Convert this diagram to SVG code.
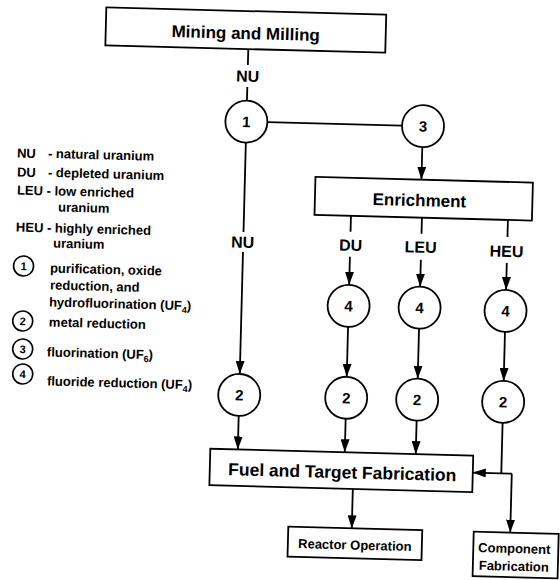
<svg xmlns="http://www.w3.org/2000/svg" width="560" height="580" viewBox="0 0 560 580">
<style>
text{font-family:"Liberation Sans",Arial,sans-serif;font-weight:bold;fill:#000}
.box{fill:#fff;stroke:#000;stroke-width:1.8}
.c{fill:#fff;stroke:#000;stroke-width:1.8}
.lc{fill:#fff;stroke:#000;stroke-width:1.6}
.ln{fill:none;stroke:#000;stroke-width:1.8}
.ar{fill:none;stroke:#000;stroke-width:1.8;marker-end:url(#ah)}
.t17{font-size:17px;text-anchor:middle}
.t16{font-size:16px;text-anchor:middle}
.t15{font-size:15px;text-anchor:middle}
.t13{font-size:13px;text-anchor:middle}
.lg{font-size:13px}
.ld{font-size:11px;text-anchor:middle}
.sub{font-size:9px}
</style>
<defs>
<marker id="ah" markerUnits="userSpaceOnUse" viewBox="0 0 13 9" markerWidth="13" markerHeight="9" refX="13" refY="4.5" orient="auto"><path d="M0,0 L13,4.5 L0,9 z" fill="#000"/></marker>
</defs>
<g transform="rotate(1.5 280 290)">
<g id="connectors">
<path class="ln" d="M242,50 V66"/>
<path class="ln" d="M242,88 V101.5"/>
<path class="ln" d="M263.3,122.5 H397.7"/>
<path class="ar" d="M418.5,143.5 V176"/>
<path class="ln" d="M242,143.5 V233"/>
<path class="ar" d="M242,253 V375"/>
<path class="ln" d="M349,214 V230"/>
<path class="ar" d="M349,255 V283"/>
<path class="ln" d="M420,214 V230"/>
<path class="ar" d="M420,256 V283"/>
<path class="ln" d="M506,214 V231"/>
<path class="ar" d="M506,257 V284"/>
<path class="ar" d="M349,325 V375"/>
<path class="ar" d="M420,325 V375"/>
<path class="ar" d="M506,326 V375"/>
<path class="ar" d="M242,417 V450.5"/>
<path class="ar" d="M349,417 V450.5"/>
<path class="ar" d="M420,417 V450.5"/>
<path class="ln" d="M506,417 V467.5"/>
<path class="ar" d="M516.5,467.5 H477.5"/>
<path class="ar" d="M516.5,467.5 V526.5"/>
<path class="ar" d="M358,487 V526.4"/>
</g>
<g id="labels">
<text class="t16" x="242" y="82.7">NU</text>
<text class="t16" x="241.5" y="248.7">NU</text>
<text class="t16" x="349.5" y="249">DU</text>
<text class="t16" x="419.5" y="249">LEU</text>
<text class="t16" x="505.5" y="251">HEU</text>
</g>
<g id="mining"><rect class="box" x="99" y="12" width="280" height="38"/><text class="t17" x="239" y="40">Mining and Milling</text></g>
<g id="p1"><circle class="c" cx="242" cy="122.5" r="21"/><text class="t15" x="242" y="128">1</text></g>
<g id="p3"><circle class="c" cx="418.7" cy="122.5" r="21"/><text class="t15" x="418.7" y="128">3</text></g>
<g id="enrichment"><rect class="box" x="312.5" y="176" width="217.5" height="38"/><text class="t17" x="417" y="202.5">Enrichment</text></g>
<g id="p4du"><circle class="c" cx="349" cy="304" r="21"/><text class="t15" x="349" y="309.5">4</text></g>
<g id="p4leu"><circle class="c" cx="420" cy="304" r="21"/><text class="t15" x="420" y="309.5">4</text></g>
<g id="p4heu"><circle class="c" cx="506" cy="305" r="21"/><text class="t15" x="506" y="310.5">4</text></g>
<g id="p2nu"><circle class="c" cx="242" cy="396" r="21"/><text class="t15" x="242" y="401.5">2</text></g>
<g id="p2du"><circle class="c" cx="349" cy="396" r="21"/><text class="t15" x="349" y="401.5">2</text></g>
<g id="p2leu"><circle class="c" cx="420" cy="396" r="21"/><text class="t15" x="420" y="401.5">2</text></g>
<g id="p2heu"><circle class="c" cx="506" cy="396" r="21"/><text class="t15" x="506" y="401.5">2</text></g>
<g id="fuel"><rect class="box" x="214.5" y="450.5" width="263" height="36.5"/><text class="t17" style="font-size:17.5px" x="347" y="476.5">Fuel and Target Fabrication</text></g>
<g id="reactor"><rect class="box" x="294.5" y="526.4" width="134" height="30"/><text class="t13" x="361.5" y="547.5">Reactor Operation</text></g>
<g id="component"><rect class="box" x="480" y="526.5" width="85" height="44.5"/><text class="t13" x="521" y="546.8">Component</text><text class="t13" x="521" y="564.5">Fabrication</text></g>
<g id="legend">
<text class="lg" x="13.5" y="164.4">NU</text><text class="lg" x="44.5" y="164">- natural uranium</text>
<text class="lg" x="14" y="183.4">DU</text><text class="lg" x="45" y="183">- depleted uranium</text>
<text class="lg" x="14.5" y="201.4">LEU - low enriched</text>
<text class="lg" x="56" y="217.3">uranium</text>
<text class="lg" x="14.4" y="238.4">HEU - highly enriched</text>
<text class="lg" x="52" y="253.5">uranium</text>
<circle class="lc" cx="23" cy="272.7" r="10"/><text class="ld" x="23" y="276.7">1</text>
<circle class="lc" cx="23.6" cy="327.7" r="10"/><text class="ld" x="23.6" y="331.7">2</text>
<circle class="lc" cx="24.3" cy="355.7" r="10"/><text class="ld" x="24.3" y="359.7">3</text>
<circle class="lc" cx="25" cy="380.7" r="10"/><text class="ld" x="25" y="384.7">4</text>
<text class="lg" x="49.5" y="278.5">purification, oxide</text>
<text class="lg" x="50" y="295.5">reduction, and</text>
<text class="lg" x="49.4" y="312.5">hydrofluorination (UF<tspan class="sub" dy="3">4</tspan><tspan dy="-3">)</tspan></text>
<text class="lg" x="49.9" y="332.5">metal reduction</text>
<text class="lg" x="48.7" y="362.5">fluorination (UF<tspan class="sub" dy="3">6</tspan><tspan dy="-3">)</tspan></text>
<text class="lg" x="49.5" y="391.5">fluoride reduction (UF<tspan class="sub" dy="3">4</tspan><tspan dy="-3">)</tspan></text>
</g>
</g>
</svg>
